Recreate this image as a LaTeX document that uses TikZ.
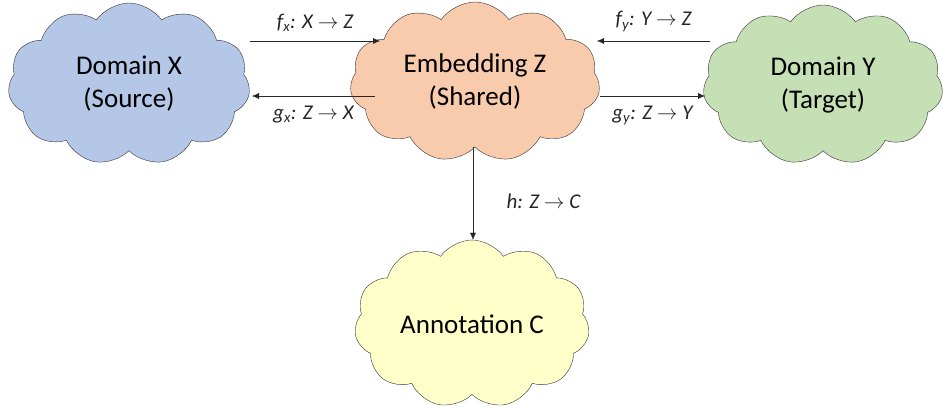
\documentclass[tikz,border=0pt]{standalone}
\usepackage{fontspec}
\setmainfont{Carlito}
\usetikzlibrary{shapes.symbols,arrows.meta,calc}
\definecolor{blueX}{HTML}{B4C7E7}
\definecolor{orangeZ}{HTML}{F8CBAD}
\definecolor{greenY}{HTML}{C5E0B4}
\definecolor{yellowC}{HTML}{FFFFC9}
\tikzset{
    nuvola/.style={cloud, cloud puffs=11, cloud puff arc=110, aspect=1.5, draw=black!80, thin,
        align=center, inner sep=0pt, font=\fontsize{27}{33}\selectfont},
    freccia/.style={-{Latex[length=7pt,width=6pt]}, thin, black!85},
    etichetta/.style={font=\fontsize{21}{24}\selectfont\itshape}
}
\begin{document}
\begin{tikzpicture}[x=1pt,y=1pt]
        \useasboundingbox (0,0) rectangle (943,410);
        % Nuvole
        \node [nuvola, fill=blueX, minimum width=242, minimum height=162] (X) at (129,326) {Domain X\\(Source)};
        \node [nuvola, fill=orangeZ, minimum width=250, minimum height=160] (Z) at (475,328) {Embedding Z\\(Shared)};
        \node [nuvola, fill=greenY, minimum width=240, minimum height=160] (Y) at (823,325) {Domain Y\\(Target)};
        \node [nuvola, fill=yellowC, minimum width=235, minimum height=168] (C) at (472,86) {Annotation C};
        % Frecce
        \draw [freccia] ($(X.center)+(121,43)$) -- ($(Z.center)+(-95,41)$)
            node [etichetta, midway, above=6pt] {f\textsubscript{x}: X $\rightarrow$ Z};
        \draw [freccia] ($(Z.center)+(-100,-14)$) -- ($(X.center)+(123,-12)$)
            node [etichetta, midway, below=6pt] {g\textsubscript{x}: Z $\rightarrow$ X};
        \draw [freccia] ($(Y.center)+(-113,44)$) -- ($(Z.center)+(122,41)$)
            node [etichetta, midway, above=6pt] {f\textsubscript{y}: Y $\rightarrow$ Z};
        \draw [freccia] ($(Z.center)+(125,-14)$) -- ($(Y.center)+(-118,-11)$)
            node [etichetta, midway, below=6pt] {g\textsubscript{y}: Z $\rightarrow$ Y};
        \draw [freccia] (Z.south -| 473,0) -- (C.north -| 473,0)
            node [etichetta, midway, right=30pt, yshift=-8pt] {h: Z $\rightarrow$ C};
    \end{tikzpicture}
\end{document}
